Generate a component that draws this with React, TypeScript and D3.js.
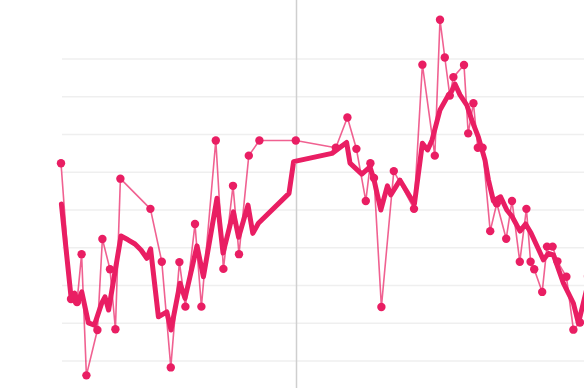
import React from "react";
import * as d3 from "d3";

const W = 584;
const H = 388;

// Sampled readings: day index and value
const sampleDays = [0, 5, 8, 10.3, 12.7, 18.2, 20.7, 24.5, 27.2, 29.7, 44.7, 50.4, 54.9, 59.2, 62.2, 67, 70.2, 77.4, 81.2, 86, 89, 93.9, 99.2, 117.4, 137.4, 143.2, 147.7, 152.4, 154.7, 156.5, 160.2, 166.4, 176.5, 180.7, 186.9, 189.5, 191.9, 194.4, 196.2, 201.5, 203.6, 206.2, 208.4, 210.8, 214.6, 217.9, 222.6, 225.5, 229.4, 232.7, 234.8, 236.6, 240.6, 243, 245.8, 248.2, 252.7, 256.2, 259.5, 263.5];
const sampleValues = [62.4, 26.4, 25.6, 38.3, 6.2, 18.2, 42.3, 34.3, 18.4, 58.3, 50.3, 36.3, 8.3, 36.2, 24.4, 46.3, 24.4, 68.4, 34.4, 56.4, 38.3, 64.4, 68.4, 68.4, 66.5, 74.5, 66.2, 52.4, 62.4, 58.5, 24.3, 60.3, 50.3, 88.5, 64.4, 100.4, 90.4, 80.3, 85.2, 88.4, 70.3, 78.3, 66.5, 66.5, 44.4, 51.8, 42.4, 52.4, 36.3, 50.3, 36.3, 34.3, 28.3, 40.3, 40.3, 36.4, 32.3, 18.3, 20.2, 32.5];

// Trend series
const trendDays = [0.2, 5, 6.8, 8.3, 10.4, 13.7, 16.7, 20.4, 22, 23.8, 30, 33.5, 37, 40, 42.9, 44.8, 48.7, 52.9, 55, 59.5, 62, 68, 71.2, 78, 81, 86.2, 88.8, 93.5, 95.9, 98.7, 114, 116.3, 135.5, 142.8, 144.5, 150.4, 154.5, 156.5, 159.9, 163.2, 164.9, 169.5, 176.7, 180.7, 183.3, 185.5, 189.5, 192.9, 195.4, 197, 199.5, 202.9, 205.4, 208.7, 212, 213.7, 216.2, 219.8, 222.9, 225.4, 229.5, 232.3, 235, 241.2, 243.7, 246.2, 251.2, 256.2, 258.7, 263.5];
const trendValues = [51.6, 27.0, 28.0, 25.4, 28.3, 20.1, 19.5, 25.4, 27.0, 23.5, 43.1, 42.1, 41.0, 39.4, 37.2, 39.7, 21.7, 23.0, 18.2, 30.6, 26.6, 40.5, 32.3, 53.1, 38.6, 49.5, 42.8, 51.3, 43.8, 46.5, 54.4, 62.8, 65.0, 67.9, 62.4, 59.5, 61.4, 58.0, 50.0, 56.4, 54.0, 57.9, 51.6, 67.7, 65.9, 68.5, 76.5, 79.7, 81.5, 83.4, 80.5, 77.8, 73.8, 69.3, 63.2, 58.0, 52.4, 53.5, 50.0, 48.4, 44.4, 46.3, 43.9, 36.8, 38.5, 38.1, 30.6, 25.3, 20.0, 30.4];

const gridValues = [10, 20, 30, 40, 50, 60, 70, 80, 90];
const markerDay = [117.75];

const COLOR = "#e91e63";

export default function App() {
  const x = d3.scaleLinear().domain([0, 261.5]).range([61, 584]);
  const y = d3.scaleLinear().domain([0, 100]).range([398.75, 21.25]);

  const samples = sampleDays.map((d, i) => ({ d, v: sampleValues[i] }));
  const trend = trendDays.map((d, i) => ({ d, v: trendValues[i] }));

  const line = d3
    .line<{ d: number; v: number }>()
    .x((p) => x(p.d))
    .y((p) => y(p.v));

  return (
    <svg
      width={W}
      height={H}
      style={{ position: "absolute", left: 0, top: 0, display: "block" }}
    >
      <rect width={W} height={H} fill="#fff" />
      {gridValues.map((g) => (
        <line
          key={g}
          x1={62}
          x2={W}
          y1={y(g)}
          y2={y(g)}
          stroke="#efefef"
          strokeWidth={1.6}
        />
      ))}
      {markerDay.map((m) => (
        <line
          key={m}
          x1={x(m)}
          x2={x(m)}
          y1={0}
          y2={H}
          stroke="#cfcfcf"
          strokeWidth={1.5}
        />
      ))}
      <path
        d={line(samples) || ""}
        fill="none"
        stroke={COLOR}
        strokeOpacity={0.7}
        strokeWidth={1.6}
        strokeLinejoin="round"
      />
      {samples.map((p, i) => (
        <circle key={i} cx={x(p.d)} cy={y(p.v)} r={4.2} fill={COLOR} />
      ))}
      <path
        d={line(trend) || ""}
        fill="none"
        stroke={COLOR}
        strokeWidth={5}
        strokeLinejoin="round"
        strokeLinecap="round"
      />
    </svg>
  );
}
